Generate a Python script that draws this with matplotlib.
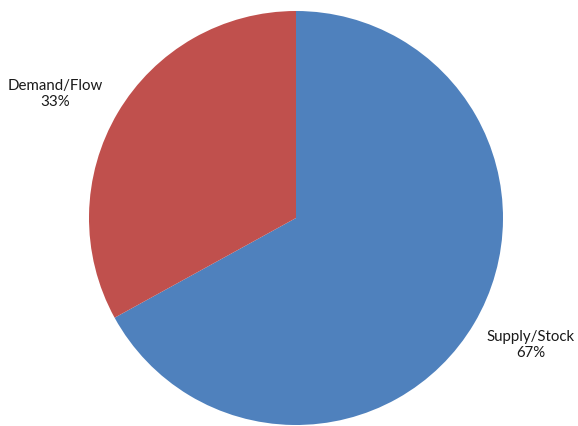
import matplotlib.pyplot as plt

labels = ["Supply/Stock", "Demand/Flow"]
values = [67, 33]
colors = ["#4F81BD", "#C0504D"]

W, H = 578, 426
cx, cy, r = 296, 218, 207

fig = plt.figure(figsize=(W / 100, H / 100), dpi=100)
ax = fig.add_axes([(cx - r) / W, (H - cy - r) / H, 2 * r / W, 2 * r / H])
ax.pie(values, colors=colors, startangle=90, counterclock=False,
       wedgeprops=dict(linewidth=0), radius=1)
ax.set_xlim(-1, 1)
ax.set_ylim(-1, 1)
ax.set_aspect("equal")
ax.axis("off")

# label positions in pixels, converted to data units
label_px = {"Demand/Flow": (55, 94), "Supply/Stock": (531, 345)}
for name, v in zip(labels, values):
    px, py = label_px[name]
    ax.text((px - cx) / r, (cy - py) / r, f"{name}\n{v}%", ha="center", va="center",
            fontsize=10.8, family=["Lato", "DejaVu Sans"], color="#1a1a1a",
            linespacing=1.25, clip_on=False)

fig.savefig("out.png", dpi=100)
